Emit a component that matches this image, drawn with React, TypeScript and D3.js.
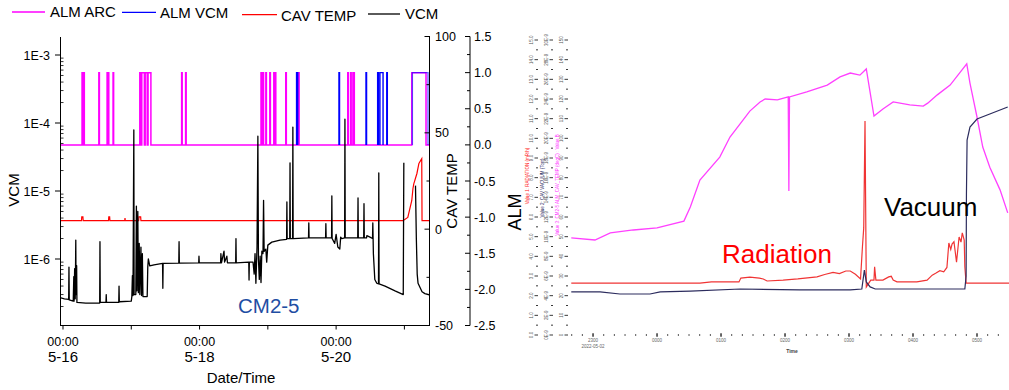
import React from "react";
import * as d3 from "d3";

const FONT = "'Liberation Sans', Arial, sans-serif";

// ---------------- Left chart data ----------------
const legendNames = ["ALM ARC", "ALM VCM", "CAV TEMP", "VCM"];
const legendColors = ["#ff00ff", "#0000ff", "#ff0000", "#000000"];

const dayTickHours = [0, 24, 48, 72, 96, 120];
const labelTickHours = [0, 48, 96];
const labelTickTimes = ["00:00", "00:00", "00:00"];
const labelTickDates = ["5-16", "5-18", "5-20"];

const vcmMajorTicks = [1e-3, 1e-4, 1e-5, 1e-6];
const vcmMajorLabels = ["1E-3", "1E-4", "1E-5", "1E-6"];
const tempTickValues = [100, 50, 0, -50];
const tempMinorTicks = [75, 25, -25];
const almTickValues = [1.5, 1.0, 0.5, 0.0, -0.5, -1.0, -1.5, -2.0, -2.5];
const almTickLabels = ["1.5", "1.0", "0.5", "0.0", "-0.5", "-1.0", "-1.5", "-2.0", "-2.5"];
const almMinorTicks = [1.25, 0.75, 0.25, -0.25, -0.75, -1.25, -1.75, -2.25];

// hours since 5-16 00:00 : [start, end]
const almArcPulses: [number, number][] = [
  [6.7, 7.0], [7.3, 7.5], [12.6, 12.8], [15.5, 15.7], [15.9, 16.1], [17.6, 17.8],
  [27.0, 27.4], [27.7, 28.6], [28.9, 29.6], [29.9, 30.9],
  [41.7, 41.9], [43.1, 43.3],
  [69.6, 69.8], [70.3, 70.5], [71.3, 71.5], [72.7, 72.9], [74.1, 74.3], [74.6, 74.8],
  [78.3, 78.5], [82.8, 83.0],
  [100.1, 100.3], [101.1, 101.3], [101.9, 102.4],
  [122.6, 127.6],
];
const almVcmPulses: [number, number][] = [
  [82.1, 82.5], [97.0, 97.2], [106.5, 106.7], [110.6, 111.0], [111.4, 112.5],
  [113.8, 114.0], [122.8, 128.3],
];

// [hour, degC]
const cavTemp: [number, number][] = [
  [-1.05, 4.4], [6.5, 4.4], [6.6, 6.4], [7.0, 6.4], [7.1, 4.4],
  [16.0, 4.4], [16.1, 6.4], [16.4, 6.4], [16.5, 4.4],
  [21.7, 4.4], [21.8, 5.8], [21.9, 4.4],
  [26.6, 4.4], [26.7, 6.4], [27.3, 6.4], [27.4, 4.4],
  [119.5, 4.4], [121.2, 6.1], [122.6, 14.9], [123.0, 21.0], [123.3, 23.5],
  [124.4, 28.9], [125.1, 34.1], [126.1, 36.6], [126.2, 4.4], [129.0, 4.4],
];

// [hour, Torr]
const vcmData: [number, number | null][] = [
  [-1.05, 2.7e-7], [0.5, 2.6e-7], [2.0, 2.55e-7], [2.1, 7.6e-7], [2.2, 2.5e-7],
  [3.6, 2.4e-7], [3.8, 5.5e-7], [3.9, 2.4e-7], [4.1, 7.2e-7], [4.3, 2.6e-7],
  [4.5, 1.9e-6], [4.6, 3.0e-7], [4.8, 8.0e-7], [4.9, 2.3e-7], [8.0, 2.25e-7],
  [12.9, 2.25e-7], [13.0, 1.8e-6], [13.1, 2.3e-7], [15.1, 2.3e-7], [15.2, 3.0e-7],
  [15.3, 2.3e-7], [19.6, 2.3e-7], [19.7, 4.0e-7], [19.8, 2.35e-7], [24.0, 2.4e-7],
  [24.2, 2.8e-7], [24.4, 5.7e-7], [24.6, 2.9e-7], [24.9, 7.9e-5], [25.0, 3.0e-7],
  [25.6, 3.0e-7], [25.8, 6.0e-6], [26.0, 3.4e-7], [26.3, 5.0e-6], [26.5, 3.2e-7],
  [26.8, 1.7e-6], [27.0, 3.0e-7], [27.4, 1.5e-6], [27.6, 2.9e-7], [27.9, 1.2e-6],
  [28.1, 2.8e-7], [29.0, 2.8e-7], [29.6, 2.8e-7], [29.8, 7.6e-7], [30.0, 1.0e-6],
  [30.5, 7.9e-7], [32.0, 8.2e-7], [35.0, 8.6e-7], [35.1, 3.7e-7], [35.2, 8.6e-7],
  [40.7, 8.7e-7], [40.8, 1.8e-6], [40.9, 8.7e-7], [47.7, 8.8e-7], [47.8, 1.1e-6],
  [47.9, 8.8e-7], [55.4, 8.8e-7], [55.5, 1.2e-6], [55.7, 8.8e-7], [56.6, 1.3e-6],
  [56.8, 9.0e-7], [57.6, 1.1e-6], [57.8, 8.8e-7], [60.7, 8.8e-7], [60.8, 2.0e-6],
  [60.9, 8.8e-7], [65.3, 9.0e-7], [65.4, 4.9e-7], [65.5, 9.0e-7], [66.8, 9.0e-7],
  [67.2, 6.0e-7], [67.5, 1.2e-6], [67.8, 4.4e-7], [68.2, 1.5e-6], [68.5, 6.4e-5],
  [68.7, 1.0e-6], [69.0, 5.0e-7], [69.3, 1.1e-6], [69.6, 4.5e-7], [69.9, 1.3e-6],
  [70.3, 1.2e-6], [70.5, 7.3e-6], [70.7, 1.3e-6], [71.3, 1.4e-6], [71.6, 9.0e-7],
  [72.0, 1.6e-6], [73.4, 1.77e-6], [76.3, 1.9e-6], [78.6, 1.95e-6], [78.7, 6.9e-6],
  [78.8, 2.0e-6], [79.7, 2.0e-6], [79.8, 2.6e-5], [79.9, 2.0e-6], [80.7, 2.0e-6],
  [80.8, 8.7e-5], [80.9, 2.0e-6], [86.3, 2.04e-6], [86.4, 3.4e-6], [86.5, 2.04e-6],
  [92.3, 2.04e-6], [92.4, 3.3e-6], [92.5, 2.04e-6], [94.4, 2.04e-6], [94.5, 8.5e-6],
  [94.6, 2.0e-6], [95.5, 1.7e-6], [96.0, 2.3e-6], [96.6, 1.5e-6], [97.3, 1.4e-6],
  [97.6, 2.1e-6], [98.0, 2.0e-6], [99.0, 2.04e-6], [99.1, 1.14e-4], [99.2, 2.04e-6],
  [103.6, 2.04e-6], [103.7, 7.9e-6], [103.8, 2.04e-6], [105.7, 2.04e-6], [105.8, 6.5e-6],
  [105.9, 2.04e-6], [106.7, 2.04e-6], [106.8, 2.2e-6], [107.9, 2.1e-6], [108.8, 2.0e-6],
  [108.9, 3.4e-6], [109.1, 1.2e-6], [109.6, 5.0e-7], [110.3, 4.4e-7], [110.9, 4.3e-7],
  [111.0, 1.84e-5], [111.1, 4.3e-7], [113.2, 4.0e-7], [116.7, 3.4e-7], [119.6, 3.0e-7],
  [119.8, 2.6e-5], [119.9, null], [123.8, null], [123.9, 1.2e-5], [124.2, 2.0e-6],
  [124.5, 6.0e-7], [124.8, 4.4e-7], [126.2, 3.3e-7], [127.2, 3.1e-7], [129.0, 2.95e-7],
];

// ---------------- Right (embedded) chart data ----------------
// [hour offset, % of plot height]
const radiation: [number, number][] = [
  [-0.34, 17.6], [0.5, 17.6], [1.2, 17.6], [1.67, 17.6], [1.85, 18.0], [2.28, 18.0],
  [2.31, 19.3], [2.45, 19.6], [2.6, 19.3], [2.66, 19.0], [2.72, 18.3], [2.97, 18.6],
  [3.2, 19.0], [3.5, 19.7], [3.62, 20.5], [3.75, 21.2], [3.85, 20.8], [3.95, 21.7],
  [4.02, 21.7], [4.1, 20.6], [4.18, 19.0], [4.21, 30.0], [4.23, 36.3], [4.25, 72.5],
  [4.27, 16.3], [4.34, 18.6], [4.39, 18.6], [4.40, 23.1], [4.42, 18.6], [4.53, 18.6],
  [4.62, 19.7], [4.66, 19.9], [4.69, 18.6], [4.75, 18.0], [5.06, 18.0], [5.22, 18.6],
  [5.3, 20.3], [5.36, 21.0], [5.42, 21.8], [5.48, 21.4], [5.53, 22.9], [5.56, 31.2],
  [5.59, 29.0], [5.61, 30.8], [5.64, 31.6], [5.68, 24.7], [5.72, 33.2], [5.75, 31.5],
  [5.77, 34.6], [5.8, 32.2], [5.81, 23.1], [5.83, 17.6], [6.5, 17.6],
];
const vacuum: [number, number][] = [
  [-0.34, 14.6], [0.11, 14.6], [0.42, 13.9], [0.89, 13.9], [1.05, 14.6], [1.52, 14.9],
  [2.3, 15.6], [3.23, 15.3], [4.02, 15.3], [4.2, 15.6], [4.24, 22.0], [4.27, 18.0],
  [4.33, 16.3], [4.41, 15.6], [5.81, 15.6], [5.83, 20.0], [5.835, 48.0], [5.845, 66.1],
  [5.89, 70.5], [6.0, 73.2], [6.2, 74.9], [6.48, 77.3],
];
const almCurve: [number, number][] = [
  [-0.34, 32.9], [0.03, 32.2], [0.27, 34.6], [0.63, 35.6], [1.0, 36.3], [1.42, 38.6],
  [1.52, 43.4], [1.67, 52.5], [1.98, 60.3], [2.14, 67.1], [2.45, 75.9], [2.61, 79.0],
  [2.69, 80.0], [2.88, 79.7], [3.05, 80.7], [3.06, 48.8], [3.07, 80.7], [3.34, 82.4],
  [3.66, 84.7], [3.86, 87.5], [4.02, 88.8], [4.17, 88.1], [4.27, 90.2], [4.39, 74.2],
  [4.53, 76.6], [4.69, 79.0], [4.95, 78.0], [5.16, 77.6], [5.23, 78.6], [5.38, 81.4],
  [5.58, 84.7], [5.84, 91.9], [5.89, 85.4], [6.0, 73.9], [6.09, 63.7], [6.2, 56.9],
  [6.36, 49.2], [6.48, 41.4],
];
const rightHourTicks = [0, 1, 2, 3, 4, 5, 6];
const rightHourLabels = ["2300", "0000", "0100", "0200", "0300", "0400", "0500"];

// ---------------- Scales ----------------
const xL = d3.scaleLinear().domain([-1.05, 129.0]).range([60, 430]);
const yV = d3.scaleLog().domain([1.07e-7, 1.84e-3]).range([325, 37]);
const yT = d3.scaleLinear().domain([-50, 100]).range([325.5, 36.5]);
const yA = d3.scaleLinear().domain([-2.5, 1.5]).range([325.5, 36.5]);

const xR = d3.scaleLinear().domain([-0.36, 6.5]).range([570, 1009]);
const yR = d3.scaleLinear().domain([0, 100]).range([335, 40]);

function arcPoints(pulses: [number, number][]): [number, number][] {
  const pts: [number, number][] = [[-1.05, 0]];
  pulses.forEach(([a, b]) => pts.push([a, 0], [a, 1], [b, 1], [b, 0]));
  pts.push([129.0, 0]);
  return pts;
}

export default function App() {
  const almLine = d3.line<[number, number]>().x((d) => xL(d[0])).y((d) => yA(d[1]));
  const tempLine = d3.line<[number, number]>().x((d) => xL(d[0])).y((d) => yT(d[1]));
  const vcmLine = d3
    .line<[number, number | null]>()
    .defined((d) => d[1] != null)
    .x((d) => xL(d[0]))
    .y((d) => yV(d[1] as number));
  const rLine = d3.line<[number, number]>().x((d) => xR(d[0])).y((d) => yR(d[1]));

  const vcmMinor: number[] = [];
  [-7, -6, -5, -4, -3].forEach((e) => {
    for (let m = 2; m <= 9; m++) {
      const v = m * Math.pow(10, e);
      if (v > 1.07e-7 && v < 1.84e-3) vcmMinor.push(v);
    }
  });

  const legendLayout = [
    { x1: 12, x2: 45, ly: 12, tx: 50, ty: 17 },
    { x1: 122, x2: 156, ly: 12.3, tx: 160, ty: 18 },
    { x1: 242, x2: 277, ly: 14.7, tx: 281, ty: 20.5 },
    { x1: 368, x2: 400, ly: 14, tx: 405, ty: 19 },
  ];

  // small axes of the embedded chart
  const colScale = d3.scaleLinear().domain([0, 30]).range([335, 40]);
  const colTicks = d3.range(0, 31);
  const rightCols = [
    { x: 538, fmt: (v: number) => (v * 0.5).toFixed(1) },
    { x: 553, fmt: (v: number) => `${v}E-9` },
    { x: 568, fmt: (v: number) => `${v * 5}` },
  ];
  const minorHours = d3.range(-2, 39).map((i) => i / 6).filter((h) => h > -0.36 && h < 6.5);

  return (
    <svg
      width={1009}
      height={390}
      style={{ position: "absolute", left: 0, top: 0, background: "#fff" }}
      fontFamily={FONT}
    >
      <defs>
        <clipPath id="plotL">
          <rect x={60} y={36} width={370} height={290} />
        </clipPath>
        <clipPath id="plotR">
          <rect x={570} y={30} width={439} height={306} />
        </clipPath>
      </defs>

      {/* Legend */}
      {legendNames.map((n, i) => (
        <g key={n}>
          <line
            x1={legendLayout[i].x1}
            x2={legendLayout[i].x2}
            y1={legendLayout[i].ly}
            y2={legendLayout[i].ly}
            stroke={legendColors[i]}
            strokeWidth={1.3}
          />
          <text x={legendLayout[i].tx} y={legendLayout[i].ty} fontSize={15} fill="#000">
            {n}
          </text>
        </g>
      ))}

      {/* Series (left) */}
      <g clipPath="url(#plotL)" fill="none">
        <path d={tempLine(cavTemp) || ""} stroke="#ff0000" strokeWidth={1.2} />
        <path d={almLine(arcPoints(almArcPulses)) || ""} stroke="#ff00ff" strokeWidth={1.5} />
        {almVcmPulses.map(([a, b], i) => (
          <path
            key={i}
            d={almLine([[a, 0], [a, 1], [b, 1], [b, 0]]) || ""}
            stroke="#0000ff"
            strokeWidth={1.4}
            strokeOpacity={i === almVcmPulses.length - 1 ? 0.6 : 1}
          />
        ))}
        <path d={vcmLine(vcmData) || ""} stroke="#000" strokeWidth={1.3} strokeLinejoin="round" />
      </g>

      {/* Left VCM log axis */}
      <line x1={60.5} x2={60.5} y1={37} y2={325.5} stroke="#000" strokeWidth={1} />
      {vcmMajorTicks.map((v, i) => (
        <g key={v}>
          <line x1={55} x2={60.5} y1={yV(v)} y2={yV(v)} stroke="#000" />
          <text x={50} y={yV(v) + 4.5} fontSize={12.5} textAnchor="end">
            {vcmMajorLabels[i]}
          </text>
        </g>
      ))}
      {vcmMinor.map((v) => (
        <line key={v} x1={60.5} x2={63.5} y1={yV(v)} y2={yV(v)} stroke="#000" strokeWidth={0.8} />
      ))}
      <text transform="translate(19,190) rotate(-90)" fontSize={15} textAnchor="middle">
        VCM
      </text>

      {/* Bottom axis */}
      <line x1={60} x2={430} y1={325.5} y2={325.5} stroke="#000" />
      {dayTickHours.map((h) => (
        <line key={h} x1={xL(h)} x2={xL(h)} y1={325.5} y2={329.5} stroke="#000" />
      ))}
      {labelTickHours.map((h, i) => (
        <g key={h}>
          <text x={xL(h)} y={346} fontSize={12.5} textAnchor="middle">
            {labelTickTimes[i]}
          </text>
          <text x={xL(h)} y={362} fontSize={15} textAnchor="middle">
            {labelTickDates[i]}
          </text>
        </g>
      ))}
      <text x={241} y={383} fontSize={15} textAnchor="middle">
        Date/Time
      </text>

      {/* CAV TEMP axis */}
      <line x1={429.5} x2={429.5} y1={36} y2={325.5} stroke="#000" />
      {tempTickValues.map((v) => (
        <g key={v}>
          <line x1={424.5} x2={429.5} y1={yT(v)} y2={yT(v)} stroke="#000" />
          <text x={435} y={yT(v) + 4.5} fontSize={12.5}>
            {v}
          </text>
        </g>
      ))}
      {tempMinorTicks.map((v) => (
        <line key={v} x1={426.5} x2={429.5} y1={yT(v)} y2={yT(v)} stroke="#000" />
      ))}
      <text transform="translate(457,191) rotate(-90)" fontSize={15} textAnchor="middle">
        CAV TEMP
      </text>

      {/* ALM axis */}
      <line x1={470} x2={470} y1={36.5} y2={325.5} stroke="#000" />
      {almTickValues.map((v, i) => (
        <g key={v}>
          <line x1={465} x2={470} y1={yA(v)} y2={yA(v)} stroke="#000" />
          <text x={474} y={yA(v) + 4.5} fontSize={12.5}>
            {almTickLabels[i]}
          </text>
        </g>
      ))}
      {almMinorTicks.map((v) => (
        <line key={v} x1={467} x2={470} y1={yA(v)} y2={yA(v)} stroke="#000" />
      ))}

      <text x={238} y={313} fontSize={20.5} fill="#1f4ea3">
        CM2-5
      </text>

      {/* ---------- Right embedded chart ---------- */}
      <text transform="translate(521,212) rotate(-90)" fontSize={18} textAnchor="middle">
        ALM
      </text>
      {rightCols.map((c, ci) => (
        <g key={ci}>
          {colTicks.map((t) => (
            <line
              key={t}
              x1={c.x - (t % 2 === 0 ? 3.5 : 2)}
              x2={c.x}
              y1={colScale(t)}
              y2={colScale(t)}
              stroke="#222"
              strokeWidth={0.9}
            />
          ))}
          {colTicks
            .filter((t) => t % 2 === 0)
            .map((t) => (
              <text
                key={t}
                transform={`translate(${c.x - 5},${colScale(t)}) rotate(-90)`}
                fontSize={4.5}
                fill="#555"
                textAnchor="middle"
              >
                {c.fmt(t)}
              </text>
            ))}
        </g>
      ))}
      <text transform="translate(529,176) rotate(-90)" fontSize={4.5} fill="#ff2020" textAnchor="middle">
        Value 1: RADIATION (mR/h)
      </text>
      <text transform="translate(544,188) rotate(-90)" fontSize={4.5} fill="#1c1c5c" textAnchor="middle">
        Value 2: CAV VACUUM (Torr)
      </text>
      <text transform="translate(559,185) rotate(-90)" fontSize={4.5} fill="#ff30ff" textAnchor="middle">
        Value 3: CM2-5 ALM_CAV_TEMP (degC) : Value B
      </text>

      {minorHours.map((h, i) => (
        <line key={i} x1={xR(h)} x2={xR(h)} y1={334} y2={336} stroke="#444" strokeWidth={0.9} />
      ))}
      {rightHourTicks.map((h, i) => (
        <g key={h}>
          <line x1={xR(h)} x2={xR(h)} y1={333} y2={337} stroke="#222" strokeWidth={1} />
          <text x={xR(h)} y={342} fontSize={4.5} fill="#666" textAnchor="middle">
            {rightHourLabels[i]}
          </text>
        </g>
      ))}
      <text x={xR(0)} y={348} fontSize={4.5} fill="#666" textAnchor="middle">
        2022-05-02
      </text>
      <text x={792} y={353} fontSize={5} fill="#444" fontWeight="bold" textAnchor="middle">
        Time
      </text>

      <g clipPath="url(#plotR)" fill="none">
        <path d={rLine(almCurve) || ""} stroke="#ff40ff" strokeWidth={1.3} />
        <path d={rLine(radiation) || ""} stroke="#f03434" strokeWidth={1.2} />
        <path d={rLine(vacuum) || ""} stroke="#2c2c5e" strokeWidth={1.2} />
      </g>

      <text x={722} y={263} fontSize={26} fill="#ff0000">
        Radiation
      </text>
      <text x={884} y={216} fontSize={26} fill="#000">
        Vacuum
      </text>
    </svg>
  );
}
